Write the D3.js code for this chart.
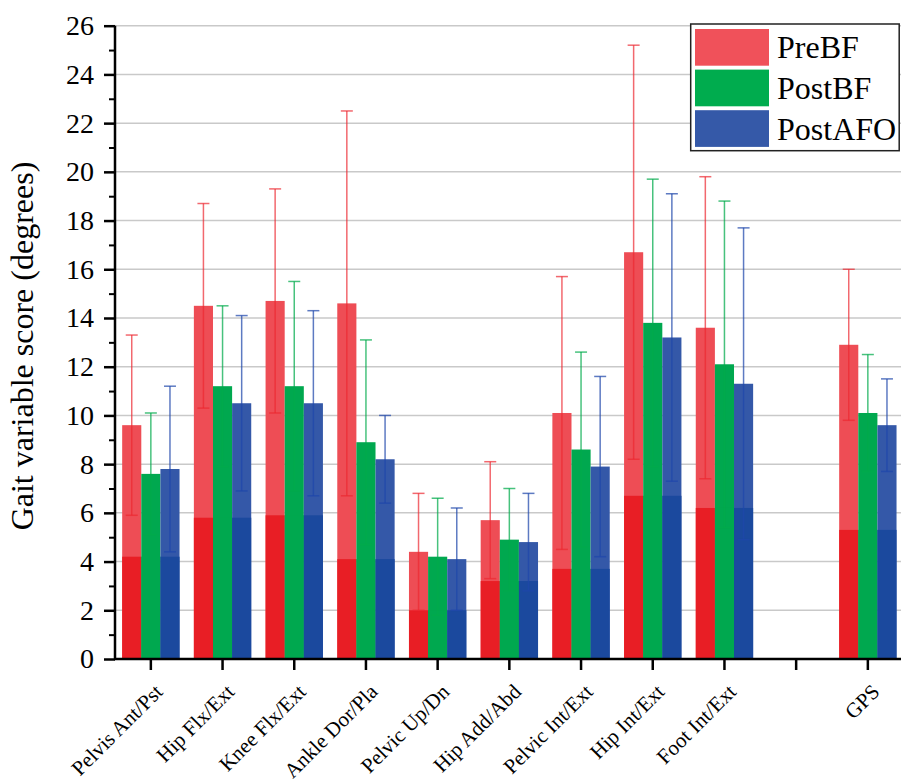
<!DOCTYPE html>
<html><head><meta charset="utf-8">
<script src="https://cdn.jsdelivr.net/npm/d3@7"></script>
<style>body{margin:0;background:#fff} svg{display:block} text{font-family:"Liberation Serif","Times New Roman",serif !important;}</style>
</head><body><svg id="c" width="901" height="781"></svg>
<script>
const categories = ["Pelvis Ant/Pst","Hip Flx/Ext","Knee Flx/Ext","Ankle Dor/Pla","Pelvic Up/Dn","Hip Add/Abd","Pelvic Int/Ext","Hip Int/Ext","Foot Int/Ext","","GPS"];
const seriesNames = ["PreBF","PostBF","PostAFO"];
const preBF      = [9.6,14.5,14.7,14.6,4.4,5.7,10.1,16.7,13.6,null,12.9];
const preBF_sd   = [3.7,4.2,4.6,7.9,2.4,2.4,5.6,8.5,6.2,null,3.1];
const postBF     = [7.6,11.2,11.2,8.9,4.2,4.9,8.6,13.8,12.1,null,10.1];
const postBF_sd  = [2.5,3.3,4.3,4.2,2.4,2.1,4.0,5.9,6.7,null,2.4];
const postAFO    = [7.8,10.5,10.5,8.2,4.1,4.8,7.9,13.2,11.3,null,9.6];
const postAFO_sd = [3.4,3.6,3.8,1.8,2.1,2.0,3.7,5.9,6.4,null,1.9];
const reference  = [4.2,5.8,5.9,4.1,2.0,3.2,3.7,6.7,6.2,null,5.3];
const yTicks = [0,2,4,6,8,10,12,14,16,18,20,22,24,26];
const yMinorTicks = [1,3,5,7,9,11,13,15,17,19,21,23,25];

const lightColors = ["#EE4D55","#00A84F","#3458A8"];
const darkColors  = ["#E81E25","#00A84F","#1B499E"];
const errColors   = ["rgba(236,40,48,0.7)","rgba(0,170,75,0.72)","rgba(30,70,170,0.72)"];
const legendColors = ["#F0515A","#00AC4E","#3559A8"];
const FONT = "Liberation Serif, Times New Roman, serif";

const means = [preBF, postBF, postAFO];
const sds = [preBF_sd, postBF_sd, postAFO_sd];

const svg = d3.select("#c");
const left = 115, bottom = 659, right = 903.7;
const keys = categories.map((c,i)=>"k"+i);
const x0 = d3.scaleBand().domain(keys).range([left,right]).paddingInner(0.2).paddingOuter(0.1);
const x1 = d3.scaleBand().domain(seriesNames).range([0,x0.bandwidth()]).padding(0);
const y = d3.scaleLinear().domain([0,26]).range([bottom,25.7]);

// gridlines
svg.append("g").selectAll("line").data(yTicks.filter(t=>t>0)).join("line")
  .attr("x1",left).attr("x2",901).attr("y1",d=>y(d)).attr("y2",d=>y(d))
  .attr("stroke","#c9c9c9").attr("stroke-width",1.5);

// bars
const rows = [];
categories.forEach((c,i)=>{
  seriesNames.forEach((s,j)=>{
    if(means[j][i]==null) return;
    rows.push({k:keys[i], s, j, m:means[j][i], sd:sds[j][i], ref:reference[i]});
  });
});
const gb = svg.append("g");
gb.selectAll("rect.top").data(rows).join("rect").attr("class","top")
  .attr("x",d=>x0(d.k)+x1(d.s)).attr("width",x1.bandwidth())
  .attr("y",d=>y(d.m)).attr("height",d=>bottom-y(d.m))
  .attr("fill",d=>lightColors[d.j]);
gb.selectAll("rect.ref").data(rows).join("rect").attr("class","ref")
  .attr("x",d=>x0(d.k)+x1(d.s)).attr("width",x1.bandwidth())
  .attr("y",d=>y(d.ref)).attr("height",d=>bottom-y(d.ref))
  .attr("fill",d=>darkColors[d.j]);

// error bars
const ge = svg.append("g");
const cap = 6;
rows.forEach(d=>{
  const cx = x0(d.k)+x1(d.s)+x1.bandwidth()/2;
  const g = ge.append("g").attr("stroke",errColors[d.j]).attr("stroke-width",1.5).attr("fill","none");
  g.append("line").attr("x1",cx).attr("x2",cx).attr("y1",y(d.m-d.sd)).attr("y2",y(d.m+d.sd));
  g.append("line").attr("x1",cx-cap).attr("x2",cx+cap).attr("y1",y(d.m+d.sd)).attr("y2",y(d.m+d.sd));
  g.append("line").attr("x1",cx-cap).attr("x2",cx+cap).attr("y1",y(d.m-d.sd)).attr("y2",y(d.m-d.sd));
});

// y axis
const yAxis = svg.append("g").attr("transform",`translate(${left},0)`)
  .call(d3.axisLeft(y).tickValues(yTicks).tickSize(11).tickPadding(10).tickFormat(d3.format("d")));
yAxis.attr("font-family",FONT);
yAxis.select(".domain").attr("stroke","#000").attr("stroke-width",2.5).attr("d",`M0,${y(26)}V${bottom}`);
yAxis.selectAll(".tick line").attr("stroke","#000").attr("stroke-width",2.5);
yAxis.selectAll(".tick text").style("font-family",FONT).attr("font-size",28).attr("fill","#000");
svg.append("g").attr("transform",`translate(${left},0)`)
  .call(d3.axisLeft(y).tickValues(yMinorTicks).tickSize(6).tickFormat(""))
  .call(g=>{g.select(".domain").remove(); g.selectAll(".tick line").attr("stroke","#000").attr("stroke-width",2);});

// x axis
const xAxis = svg.append("g").attr("transform",`translate(0,${bottom})`)
  .call(d3.axisBottom(x0).tickSize(11).tickFormat(""));
xAxis.select(".domain").attr("stroke","#000").attr("stroke-width",2.5).attr("d",`M${left-1},0H901`);
xAxis.selectAll(".tick line").attr("stroke","#000").attr("stroke-width",2.5);
svg.append("g").selectAll("text").data(categories.map((c,i)=>({c,k:keys[i]})).filter(d=>d.c)).join("text")
  .attr("transform",d=>`translate(${x0(d.k)+x0.bandwidth()/2+13},${bottom+34}) rotate(-45)`)
  .attr("text-anchor","end").style("font-family",FONT).attr("font-size",21).attr("fill","#000")
  .text(d=>d.c);

// y label
svg.append("text").attr("transform",`translate(33,346) rotate(-90)`)
  .attr("text-anchor","middle").style("font-family",FONT).attr("font-size",32).attr("fill","#000")
  .text("Gait variable score (degrees)");

// legend
const lg = svg.append("g");
lg.append("rect").attr("x",690.7).attr("y",24).attr("width",208.5).attr("height",126.7)
  .attr("fill","#fff").attr("stroke","#222").attr("stroke-width",1.5);
seriesNames.forEach((s,j)=>{
  lg.append("rect").attr("x",695).attr("y",29+j*40.6).attr("width",74).attr("height",36.7)
    .attr("fill",legendColors[j]);
  lg.append("text").attr("x",777).attr("y",58.3+j*40.6).style("font-family",FONT).attr("font-size",32)
    .attr("fill","#000").text(s);
});
</script></body></html>
